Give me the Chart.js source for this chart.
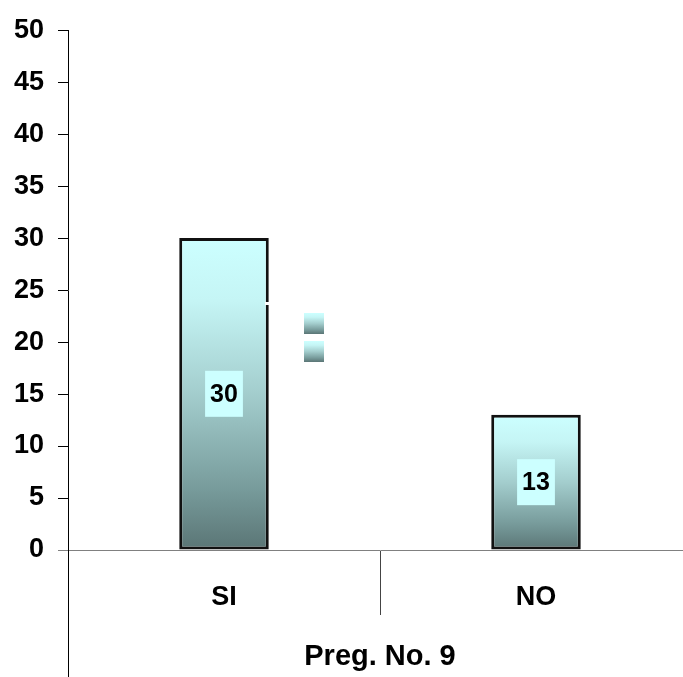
<!DOCTYPE html>
<html>
<head>
<meta charset="utf-8">
<script src="https://cdn.jsdelivr.net/npm/chart.js@4/dist/chart.umd.min.js"></script>
<style>
  html, body { margin: 0; padding: 0; background: #fff; overflow: hidden; }
  #wrap { width: 683px; height: 677px; overflow: hidden; }
  canvas { display: block; }
</style>
</head>
<body>
<div id="wrap"><canvas id="chart" width="692" height="677"></canvas></div>
<script>
// answers to question 9
const categories = ['SI', 'NO'];
const answers = [30, 13];
const yMin = 0, yMax = 50, yStep = 5;
const axisTitle = 'Preg. No. 9';

const FONT = "'Liberation Sans', Arial, sans-serif";

// light cyan at the top of a bar fading to dark slate at its base
function fillGradient(ctx, top, bottom){
  const g = ctx.createLinearGradient(0, top, 0, bottom);
  g.addColorStop(0, '#ccffff');
  g.addColorStop(0.2, '#c5f5f5');
  g.addColorStop(0.5, '#a3cdcd');
  g.addColorStop(0.8, '#789c9c');
  g.addColorStop(1, '#5a7575');
  return g;
}

function barFill(c){
  const y = c.chart.scales.y;
  if (!y || c.type !== 'data') return '#a3cdcd';
  const top = y.getPixelForValue(c.raw), bottom = y.getPixelForValue(0);
  if (!isFinite(top) || !isFinite(bottom) || top === bottom) return '#a3cdcd';
  return fillGradient(c.chart.ctx, top, bottom);
}

// value boxes in the middle of each bar
const valueBoxes = {
  id: 'valueBoxes',
  afterDatasetsDraw(chart){
    const ctx = chart.ctx;
    const meta = chart.getDatasetMeta(0);
    ctx.save();
    ctx.font = 'bold 25px ' + FONT;
    ctx.textAlign = 'center';
    ctx.textBaseline = 'middle';
    meta.data.forEach((bar, i) => {
      const txt = String(answers[i]);
      const w = ctx.measureText(txt).width + 10, h = 46;
      const cy = (bar.y + bar.base) / 2;
      ctx.fillStyle = '#ccffff';
      ctx.fillRect(bar.x - w / 2, cy - h / 2, w, h);
      ctx.fillStyle = '#000';
      ctx.fillText(txt, bar.x, cy + 1);
    });
    ctx.restore();
  }
};

// y axis line runs on down through the category band; small legend keys
const extras = {
  id: 'extras',
  afterDraw(chart){
    const ctx = chart.ctx, a = chart.chartArea;
    ctx.save();
    const x = Math.round(a.left) + 0.5;
    ctx.strokeStyle = '#000';
    ctx.lineWidth = 1;
    ctx.beginPath();
    ctx.moveTo(x, a.bottom);
    ctx.lineTo(x, chart.height);
    ctx.stroke();

    // legend keys (no text)
    [313, 341].forEach(ky => {
      ctx.fillStyle = fillGradient(ctx, ky, ky + 21);
      ctx.fillRect(304, ky, 20, 21);
    });
    ctx.fillStyle = '#fff';
    ctx.fillRect(265, 302, 5, 3);
    ctx.restore();
  }
};

new Chart(document.getElementById('chart'), {
  type: 'bar',
  data: {
    labels: categories,
    datasets: [{
      data: answers,
      backgroundColor: barFill,
      borderColor: '#111',
      borderWidth: 3,
      borderSkipped: false,
      barPercentage: 1,
      categoryPercentage: 0.287
    }]
  },
  options: {
    responsive: false,
    animation: false,
    devicePixelRatio: 1,
    layout: { padding: { top: 30, left: 0, right: 0, bottom: 0 } },
    plugins: { legend: { display: false }, tooltip: { enabled: false } },
    scales: {
      x: {
        afterFit(s){ s.height = 127; },
        grid: { display: true, offset: true, drawOnChartArea: false, tickLength: 65, color: '#444', lineWidth: 1 },
        border: { display: true, color: '#808080', width: 1 },
        ticks: { color: '#000', padding: -34, font: { family: FONT, size: 27, weight: 'bold' } },
        title: {
          display: true, text: axisTitle, color: '#000',
          font: { family: FONT, size: 29, weight: 'bold' },
          padding: { top: 0, bottom: 3 }
        }
      },
      y: {
        min: yMin, max: yMax,
        afterFit(s){ s.width = 68; },
        grid: { display: true, drawOnChartArea: false, tickLength: 10,
                color: c => c.tick && c.tick.value === 0 ? '#808080' : '#000' },
        border: { display: true, color: '#000', width: 1 },
        ticks: { stepSize: yStep, color: '#000', padding: 14, font: { family: FONT, size: 27, weight: 'bold' } }
      }
    }
  },
  plugins: [valueBoxes, extras]
});
</script>
</body>
</html>
